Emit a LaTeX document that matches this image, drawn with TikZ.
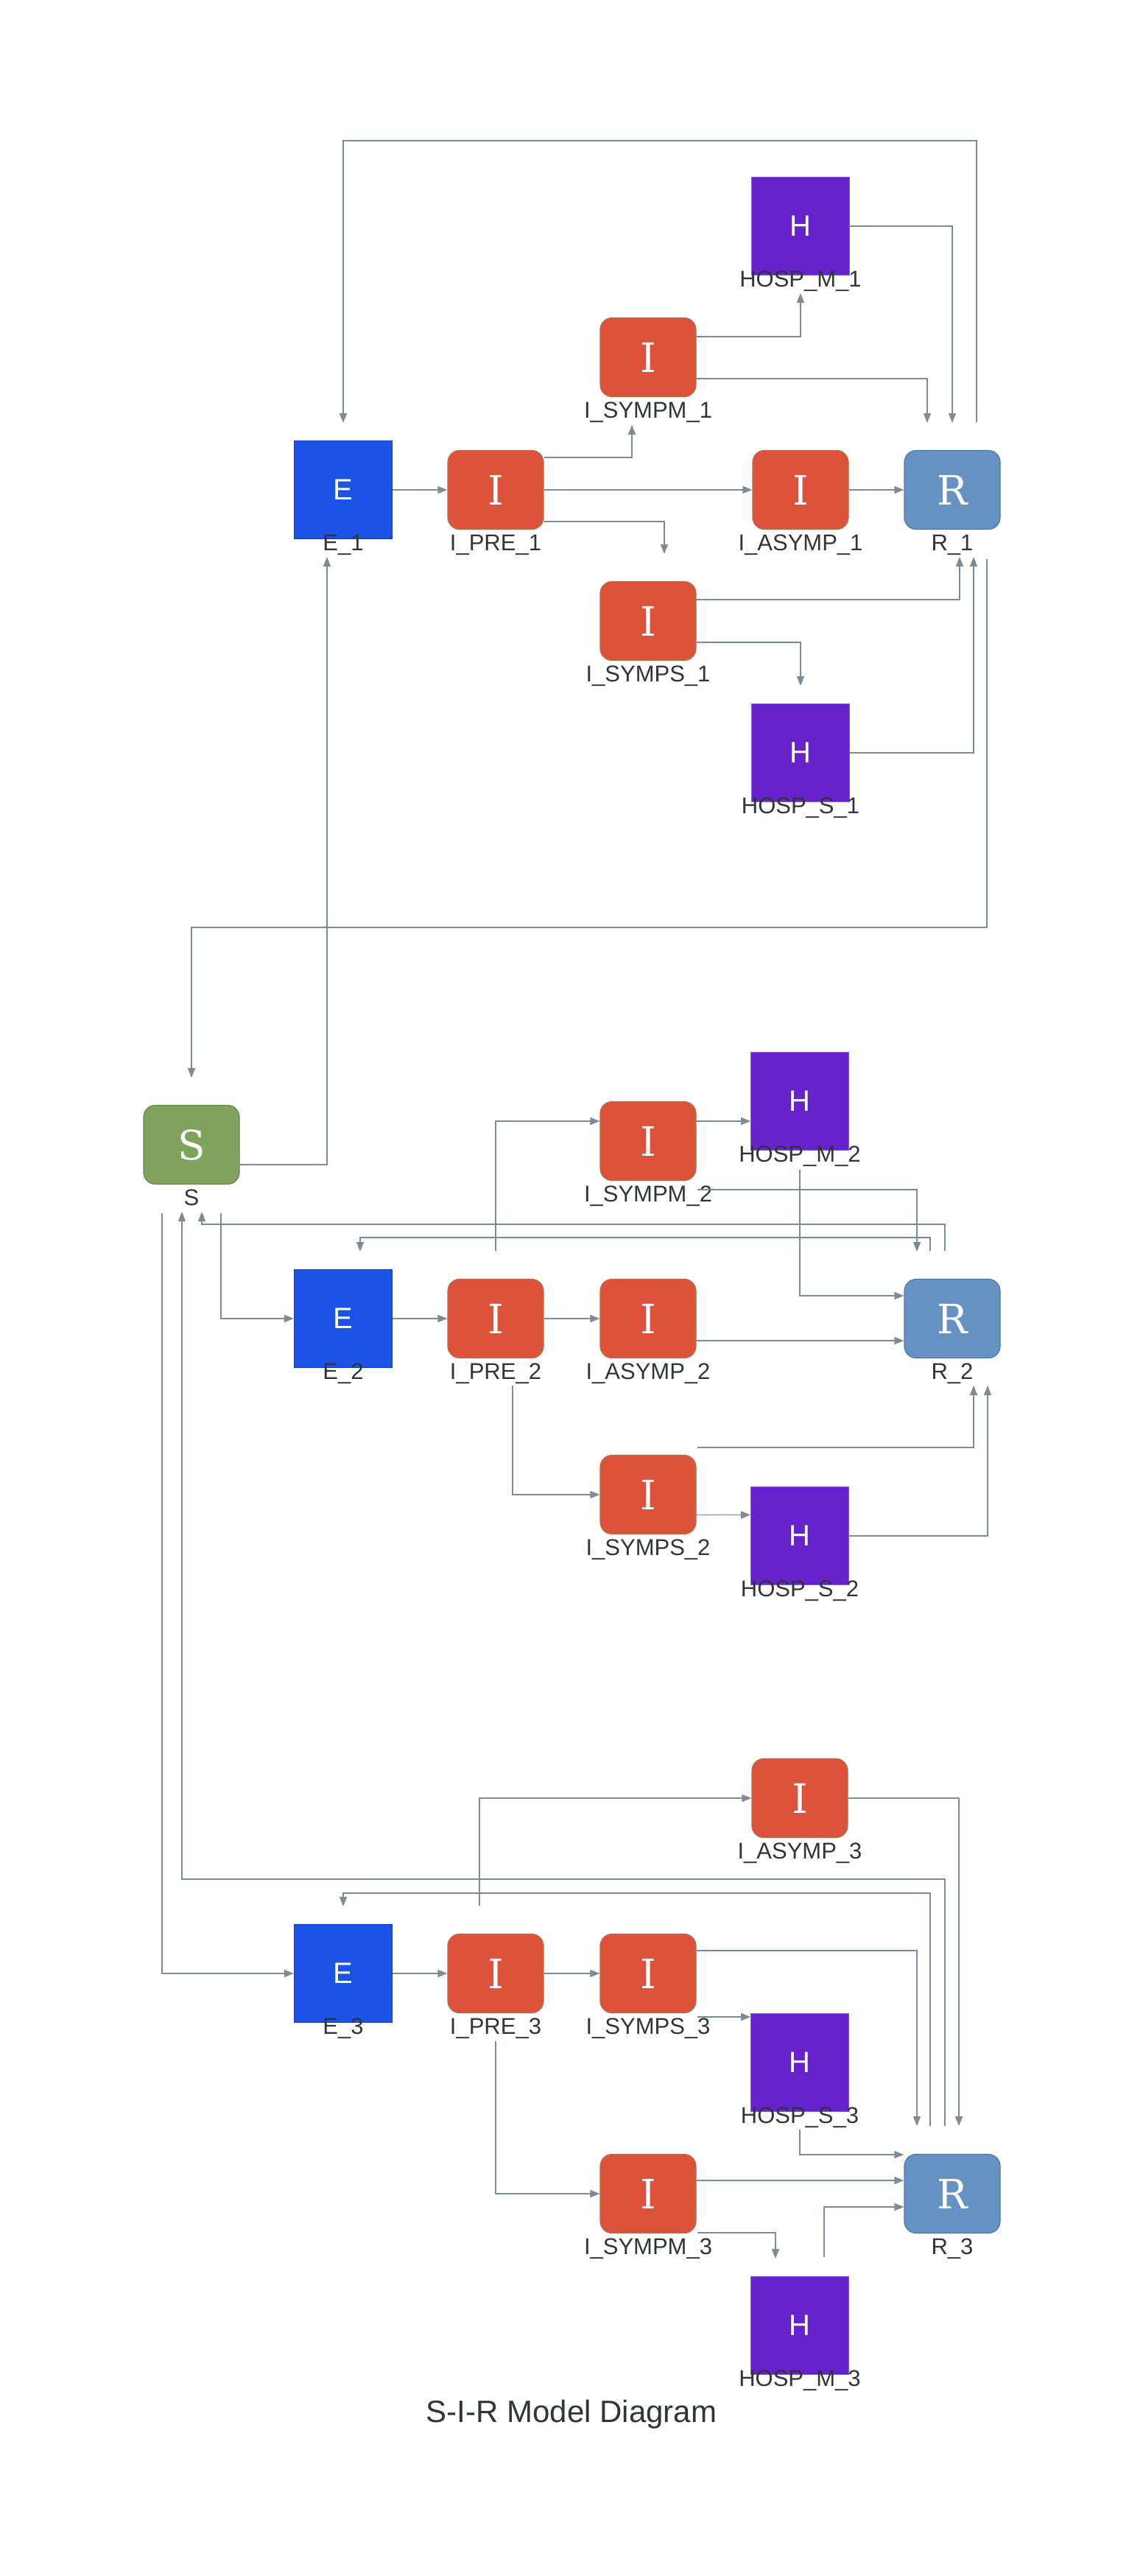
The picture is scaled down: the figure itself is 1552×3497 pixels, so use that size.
\documentclass[tikz,border=0pt]{standalone}
\usepackage{fontspec}
\setmainfont{Liberation Sans}
\newfontfamily\serifl{DejaVu Serif}
\usetikzlibrary{arrows.meta,calc}
\definecolor{Eblue}{HTML}{1A53E5}
\definecolor{Eborder}{HTML}{0F3CC6}
\definecolor{Hpurple}{HTML}{6622CC}
\definecolor{Hborder}{HTML}{8A5AE0}
\definecolor{Ired}{HTML}{DE513A}
\definecolor{Iborder}{HTML}{B0714F}
\definecolor{Rblue}{HTML}{6592C3}
\definecolor{Rborder}{HTML}{4F78A8}
\definecolor{Sgreen}{HTML}{7FA35D}
\definecolor{Sborder}{HTML}{628845}
\definecolor{edgec}{HTML}{7D8A98}
\definecolor{labc}{HTML}{303537}
\tikzset{
  sqbox/.style={rectangle, minimum width=133pt, minimum height=133pt, inner sep=0pt,
    text=white, font=\fontsize{40}{40}\selectfont},
  ebox/.style={sqbox, fill=Eblue, draw=Eborder, line width=1.2pt},
  hbox/.style={sqbox, fill=Hpurple, draw=Hborder, line width=0.6pt},
  rndbox/.style={rectangle, rounded corners=16pt, minimum width=130pt, minimum height=107pt,
    inner sep=0pt, line width=1.2pt, text=white, font=\serifl\fontsize{55}{55}\selectfont},
  ibox/.style={rndbox, fill=Ired, draw=Iborder},
  rbox/.style={rndbox, fill=Rblue, draw=Rborder},
  sbox/.style={rndbox, fill=Sgreen, draw=Sborder},
  lab/.style={anchor=base, inner sep=0pt, text=labc, font=\fontsize{31}{31}\selectfont},
  conn/.style={draw=edgec, line width=1.4pt, -{Triangle[length=13pt,width=10pt]}},
}
\begin{document}
\begin{tikzpicture}[x=1pt,y=-1pt]
\useasboundingbox[fill=white] (0,0) rectangle (1552,3497);

% ---------- cluster 1 ----------
\node[ebox] (E1) at (466,665) {E};
\node[ibox] (IPRE1) at (673,665) {I};
\node[ibox] (ISYMPM1) at (880,485) {I};
\node[ibox] (IASYMP1) at (1087,665) {I};
\node[rbox] (R1) at (1293,665) {R};
\node[ibox] (ISYMPS1) at (880,843) {I};
\node[hbox] (HM1) at (1087,307) {H};
\node[hbox] (HS1) at (1087,1022) {H};

% ---------- cluster 2 ----------
\node[sbox] (S) at (260,1554) {S};
\node[hbox] (HM2) at (1086,1495) {H};
\node[ibox] (ISYMPM2) at (880,1549) {I};
\node[ebox] (E2) at (466,1790) {E};
\node[ibox] (IPRE2) at (673,1790) {I};
\node[ibox] (IASYMP2) at (880,1790) {I};
\node[rbox] (R2) at (1293,1790) {R};
\node[ibox] (ISYMPS2) at (880,2029) {I};
\node[hbox] (HS2) at (1086,2085) {H};

% ---------- cluster 3 ----------
\node[ibox] (IASYMP3) at (1086,2441) {I};
\node[ebox] (E3) at (466,2679) {E};
\node[ibox] (IPRE3) at (673,2679) {I};
\node[ibox] (ISYMPS3) at (880,2679) {I};
\node[hbox] (HS3) at (1086,2800) {H};
\node[ibox] (ISYMPM3) at (880,2978) {I};
\node[rbox] (R3) at (1293,2978) {R};
\node[hbox] (HM3) at (1086,3157) {H};

% ---------- labels ----------
\node[lab] (E1l) at ($(E1)+(0,82)$) {E\_1};
\node[lab] (IPRE1l) at ($(IPRE1)+(0,82)$) {I\_PRE\_1};
\node[lab] (ISYMPM1l) at ($(ISYMPM1)+(0,82)$) {I\_SYMPM\_1};
\node[lab] (IASYMP1l) at ($(IASYMP1)+(0,82)$) {I\_ASYMP\_1};
\node[lab] (R1l) at ($(R1)+(0,82)$) {R\_1};
\node[lab] (ISYMPS1l) at ($(ISYMPS1)+(0,82)$) {I\_SYMPS\_1};
\node[lab] (HM1l) at ($(HM1)+(0,82)$) {HOSP\_M\_1};
\node[lab] (HS1l) at ($(HS1)+(0,82)$) {HOSP\_S\_1};
\node[lab] (Sl) at ($(S)+(0,82)$) {S};
\node[lab] (HM2l) at ($(HM2)+(0,82)$) {HOSP\_M\_2};
\node[lab] (ISYMPM2l) at ($(ISYMPM2)+(0,82)$) {I\_SYMPM\_2};
\node[lab] (E2l) at ($(E2)+(0,82)$) {E\_2};
\node[lab] (IPRE2l) at ($(IPRE2)+(0,82)$) {I\_PRE\_2};
\node[lab] (IASYMP2l) at ($(IASYMP2)+(0,82)$) {I\_ASYMP\_2};
\node[lab] (R2l) at ($(R2)+(0,82)$) {R\_2};
\node[lab] (ISYMPS2l) at ($(ISYMPS2)+(0,82)$) {I\_SYMPS\_2};
\node[lab] (HS2l) at ($(HS2)+(0,82)$) {HOSP\_S\_2};
\node[lab] (IASYMP3l) at ($(IASYMP3)+(0,82)$) {I\_ASYMP\_3};
\node[lab] (E3l) at ($(E3)+(0,82)$) {E\_3};
\node[lab] (IPRE3l) at ($(IPRE3)+(0,82)$) {I\_PRE\_3};
\node[lab] (ISYMPS3l) at ($(ISYMPS3)+(0,82)$) {I\_SYMPS\_3};
\node[lab] (HS3l) at ($(HS3)+(0,82)$) {HOSP\_S\_3};
\node[lab] (ISYMPM3l) at ($(ISYMPM3)+(0,82)$) {I\_SYMPM\_3};
\node[lab] (R3l) at ($(R3)+(0,82)$) {R\_3};
\node[lab] (HM3l) at ($(HM3)+(0,82)$) {HOSP\_M\_3};
\node[anchor=base, inner sep=0pt, text=labc, font=\fontsize{42}{42}\selectfont] (title) at (776,3288) {S-I-R Model Diagram};

% ---------- connectors cluster 1 ----------
\draw[conn] ($(R1)+(33,-92)$) |- ($(E1)+(0,-474)$) -- ($(E1)+(0,-91)$);
\draw[conn] (E1.east) -- (IPRE1.west);
\draw[conn] ($(IPRE1.east)+(0,-44)$) -| ($(ISYMPM1)+(-22,92)$);
\draw[conn] (IPRE1.east) -- (IASYMP1.west);
\draw[conn] ($(IPRE1.east)+(0,43)$) -| ($(ISYMPS1)+(22,-91)$);
\draw[conn] (IASYMP1.east) -- (R1.west);
\draw[conn] ($(ISYMPM1.east)+(0,-28)$) -| ($(HM1)+(0,91)$);
\draw[conn] ($(ISYMPM1.east)+(0,29)$) -| ($(R1)+(-34,-91)$);
\draw[conn] (HM1.east) -| ($(R1)+(0,-91)$);
\draw[conn] ($(ISYMPS1.east)+(0,-29)$) -| ($(R1)+(10,91)$);
\draw[conn] ($(ISYMPS1.east)+(0,29)$) -| ($(HS1)+(0,-91)$);
\draw[conn] (HS1.east) -| ($(R1)+(29,91)$);
\draw[conn] ($(R1)+(47,94)$) |- ($(S)+(0,-295)$) -- ($(S)+(0,-91)$);
\draw[conn] ($(S.east)+(0,27)$) -| ($(E1)+(-22,91)$);

% ---------- connectors cluster 2 ----------
\draw[conn] ($(S)+(40,93)$) |- (E2.west);
\draw[conn] (E2.east) -- (IPRE2.west);
\draw[conn] (IPRE2.east) -- (IASYMP2.west);
\draw[conn] ($(IPRE2)+(0,-92)$) |- ($(ISYMPM2.west)+(0,-27)$);
\draw[conn] ($(IPRE2)+(23,91)$) |- (ISYMPS2.west);
\draw[conn] ($(ISYMPM2.east)+(0,-27)$) -- ($(HM2.west)+(0,27)$);
\draw[conn] ($(ISYMPM2)+(67,66)$) -| ($(R2)+(-48,-91)$);
\draw[conn] ($(HM2)+(0,93)$) |- ($(R2.west)+(0,-31)$);
\draw[conn] ($(IASYMP2.east)+(0,30)$) -- ($(R2.west)+(0,30)$);
\draw[conn] ($(R2)+(-10,-92)$) |- ($(S)+(14,108)$) -- ($(S)+(14,91)$);
\draw[conn] ($(R2)+(-30,-92)$) |- ($(E2)+(23,-110)$) -- ($(E2)+(23,-91)$);
\draw[conn] ($(ISYMPS2)+(67,-64)$) -| ($(R2)+(29,91)$);
\draw[conn] ($(ISYMPS2.east)+(0,27.5)$) -- ($(HS2.west)+(0,-28.5)$);
\draw[conn] (HS2.east) -| ($(R2)+(48,91)$);

% ---------- connectors cluster 3 ----------
\draw[conn] ($(S)+(-40,93)$) |- (E3.west);
\draw[conn] ($(R3)+(-10,-92)$) |- ($(S)+(-13,997)$) -- ($(S)+(-13,91)$);
\draw[conn] ($(R3)+(-30,-92)$) |- ($(E3)+(0,-109)$) -- ($(E3)+(0,-91)$);
\draw[conn] (E3.east) -- (IPRE3.west);
\draw[conn] (IPRE3.east) -- (ISYMPS3.west);
\draw[conn] ($(IPRE3)+(-22,-92)$) |- (IASYMP3.west);
\draw[conn] (IASYMP3.east) -| ($(R3)+(9,-92)$);
\draw[conn] ($(ISYMPS3.east)+(0,-31)$) -| ($(R3)+(-48,-92)$);
\draw[conn] ($(ISYMPS3)+(67,59)$) -- ($(HS3.west)+(0,-62)$);
\draw[conn] ($(HS3)+(0,91)$) |- ($(R3.west)+(0,-53)$);
\draw[conn] ($(IPRE3)+(0,92)$) |- (ISYMPM3.west);
\draw[conn] ($(ISYMPM3.east)+(0,-18)$) -- ($(R3.west)+(0,-18)$);
\draw[conn] ($(ISYMPM3)+(67,53)$) -| ($(HM3)+(-33,-91)$);
\draw[conn] ($(HM3)+(33,-93)$) |- ($(R3.west)+(0,18)$);
\end{tikzpicture}
\end{document}
